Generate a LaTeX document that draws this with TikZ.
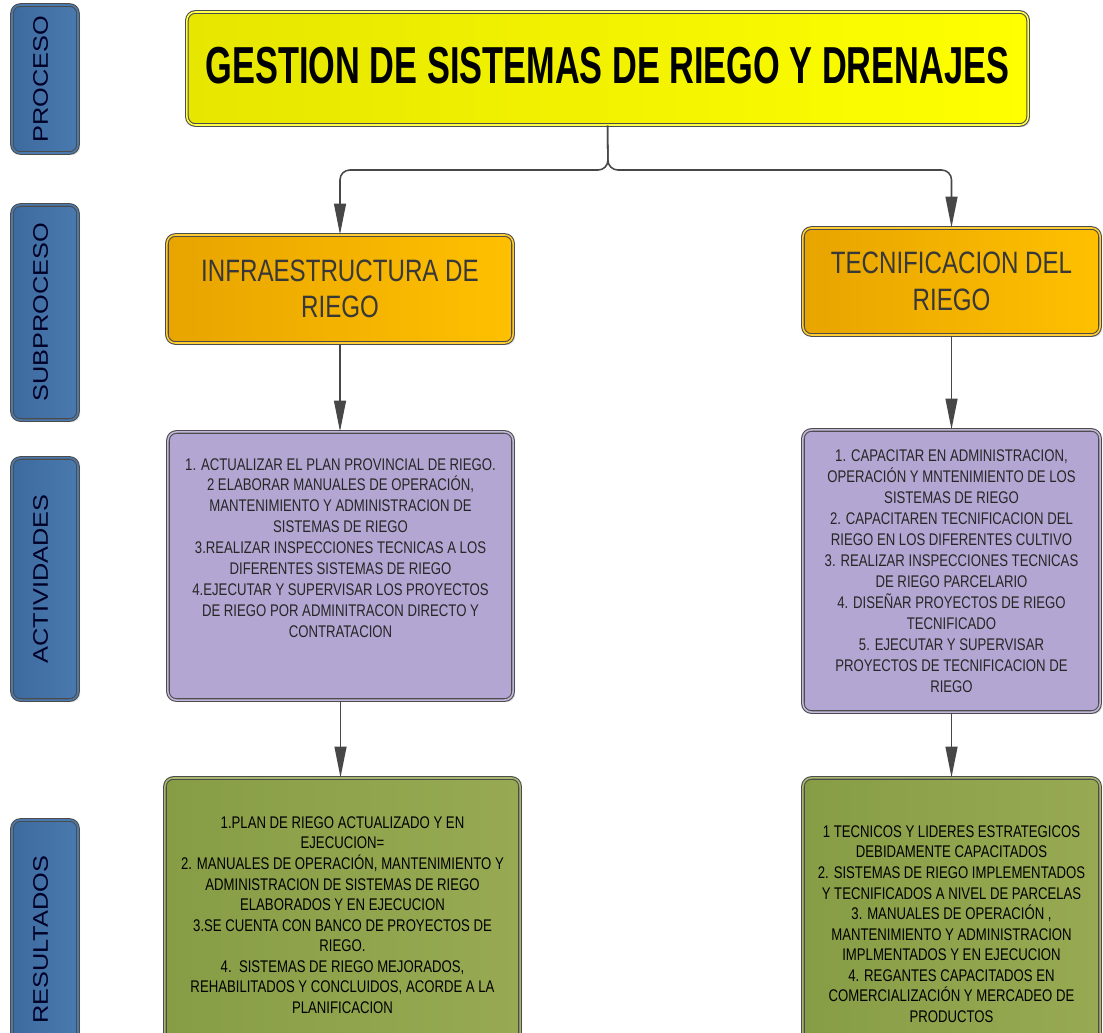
\documentclass[tikz,border=0pt]{standalone}
\usepackage{fontspec}
\setmainfont{Liberation Sans}
\newfontfamily\narrowfont[FakeStretch=0.78]{Liberation Sans}
\newfontfamily\titlefont[FakeStretch=0.66]{Liberation Sans}
\newfontfamily\widefont[FakeStretch=1.2]{Liberation Sans}
\usetikzlibrary{arrows.meta,shadows}

\definecolor{procblue}{HTML}{3D6BA0}
\definecolor{procblueL}{HTML}{4A79AE}
\definecolor{titleyelL}{HTML}{E6E600}
\definecolor{titleyelR}{HTML}{FFFF00}
\definecolor{suborangeL}{HTML}{E8A400}
\definecolor{suborangeR}{HTML}{FFC000}
\definecolor{actlilac}{HTML}{B4A6D2}
\definecolor{resgreenL}{HTML}{879D45}
\definecolor{resgreenR}{HTML}{97AA53}
\definecolor{txtgray}{HTML}{262626}

\begin{document}
\begin{tikzpicture}[x=0.025cm,y=-0.025cm,
  box/.style={draw=black!70, line width=0.75pt, double distance=1.1pt,
    rounded corners=6pt, align=center, inner sep=0pt, text=txtgray,
    drop shadow={opacity=0.22, shadow xshift=1.5pt, shadow yshift=-1.5pt}},
  sidebox/.style={box, double=procblueL, left color=procblue, right color=procblueL,
    rotate=90, minimum height=1.65cm, text=black!85!blue,
    text height=11pt, text depth=7pt,
    font=\widefont\fontsize{15}{18}\selectfont},
  actbox/.style={box, double=actlilac!80!white, fill=actlilac, text=black!85,
    font=\narrowfont\fontsize{12}{14.9}\selectfont},
  resbox/.style={box, double=resgreenR!85!white, left color=resgreenL, right color=resgreenR,
    text=black, font=\narrowfont\fontsize{12}{14.6}\selectfont},
  subbox/.style={box, double=suborangeR!80!white, left color=suborangeL, right color=suborangeR,
    text=black!78, font=\narrowfont\fontsize{22}{26}\selectfont},
  conn/.style={draw=black!72, line width=1.1pt, rounded corners=7pt,
    -{Triangle[length=22pt,width=8.5pt]}}
]
  \useasboundingbox (0,0) rectangle (1103,1032);

  % Level labels (left column)
  \node[sidebox, minimum width=3.7cm] (lproc) at (45,79) {PROCESO};
  \node[sidebox, minimum width=5.375cm] (lsub) at (45,312.5) {SUBPROCESO};
  \node[sidebox, minimum width=6.05cm] (lact) at (45,579) {ACTIVIDADES};
  \node[sidebox, minimum width=6.0cm] (lres) at (45,940) {RESULTADOS};

  % Process box (top)
  \node[box, double=titleyelR!70!white, left color=titleyelL, right color=titleyelR,
    minimum width=21.025cm, minimum height=2.825cm, text=black,
    text height=27pt, text depth=6pt,
    font=\titlefont\bfseries\fontsize{37}{40}\selectfont] (proc) at (607.5,68.5)
    {GESTION DE SISTEMAS DE RIEGO Y DRENAJES};

  % Subprocess boxes
  \node[subbox, minimum width=8.65cm, minimum height=2.7cm] (subinfra) at (340,289)
    {INFRAESTRUCTURA DE\\RIEGO};
  \node[subbox, minimum width=7.425cm, minimum height=2.675cm] (subtec) at (951.5,281.5)
    {TECNIFICACION DEL\\RIEGO};

  % Activities
  \node[actbox, minimum width=8.625cm, minimum height=6.7cm] (actinfra) at (340.5,566)
    {1. ACTUALIZAR EL PLAN PROVINCIAL DE RIEGO.\\
     2 ELABORAR MANUALES DE OPERACIÓN,\\
     MANTENIMIENTO Y ADMINISTRACION DE\\
     SISTEMAS DE RIEGO\\
     3.REALIZAR INSPECCIONES TECNICAS A LOS\\
     DIFERENTES SISTEMAS DE RIEGO\\
     4.EJECUTAR Y SUPERVISAR LOS PROYECTOS\\
     DE RIEGO POR ADMINITRACON DIRECTO Y\\
     CONTRATACION\\[0.9em]};
  \node[actbox, minimum width=7.425cm, minimum height=7.05cm] (acttec) at (951.5,571)
    {1. CAPACITAR EN ADMINISTRACION,\\
     OPERACIÓN Y MNTENIMIENTO DE LOS\\
     SISTEMAS DE RIEGO\\
     2. CAPACITAREN TECNIFICACION DEL\\
     RIEGO EN LOS DIFERENTES CULTIVO\\
     3. REALIZAR INSPECCIONES TECNICAS\\
     DE RIEGO PARCELARIO\\
     4. DISEÑAR PROYECTOS DE RIEGO\\
     TECNIFICADO\\
     5. EJECUTAR Y SUPERVISAR\\
     PROYECTOS DE TECNIFICACION DE\\
     RIEGO};

  % Results
  \node[resbox, minimum width=8.875cm, minimum height=6.85cm] (resinfra) at (342.5,915)
    {1.PLAN DE RIEGO ACTUALIZADO Y EN\\
     EJECUCION=\\
     2. MANUALES DE OPERACIÓN, MANTENIMIENTO Y\\
     ADMINISTRACION DE SISTEMAS DE RIEGO\\
     ELABORADOS Y EN EJECUCION\\
     3.SE CUENTA CON BANCO DE PROYECTOS DE\\
     RIEGO.\\
     4.\ \ SISTEMAS DE RIEGO MEJORADOS,\\
     REHABILITADOS Y CONCLUIDOS, ACORDE A LA\\
     PLANIFICACION};
  \node[resbox, minimum width=7.425cm, minimum height=7.3cm] (restec) at (951.5,924)
    {1 TECNICOS Y LIDERES ESTRATEGICOS\\
     DEBIDAMENTE CAPACITADOS\\
     2. SISTEMAS DE RIEGO IMPLEMENTADOS\\
     Y TECNIFICADOS A NIVEL DE PARCELAS\\
     3. MANUALES DE OPERACIÓN ,\\
     MANTENIMIENTO Y ADMINISTRACION\\
     IMPLMENTADOS Y EN EJECUCION\\
     4. REGANTES CAPACITADOS EN\\
     COMERCIALIZACIÓN Y MERCADEO DE\\
     PRODUCTOS};

  % Connectors
  \coordinate (split) at (608,170);
  \draw[conn] (proc.south) -- (split) -| (subinfra.north);
  \draw[conn] (proc.south) -- (split) -| (subtec.north);
  \draw[conn] (subinfra.south) -- (subinfra.south |- actinfra.north);
  \draw[conn] (actinfra.south) -- (actinfra.south |- resinfra.north);
  \draw[conn] (subtec.south) -- (subtec.south |- acttec.north);
  \draw[conn] (acttec.south) -- (acttec.south |- restec.north);
\end{tikzpicture}
\end{document}
